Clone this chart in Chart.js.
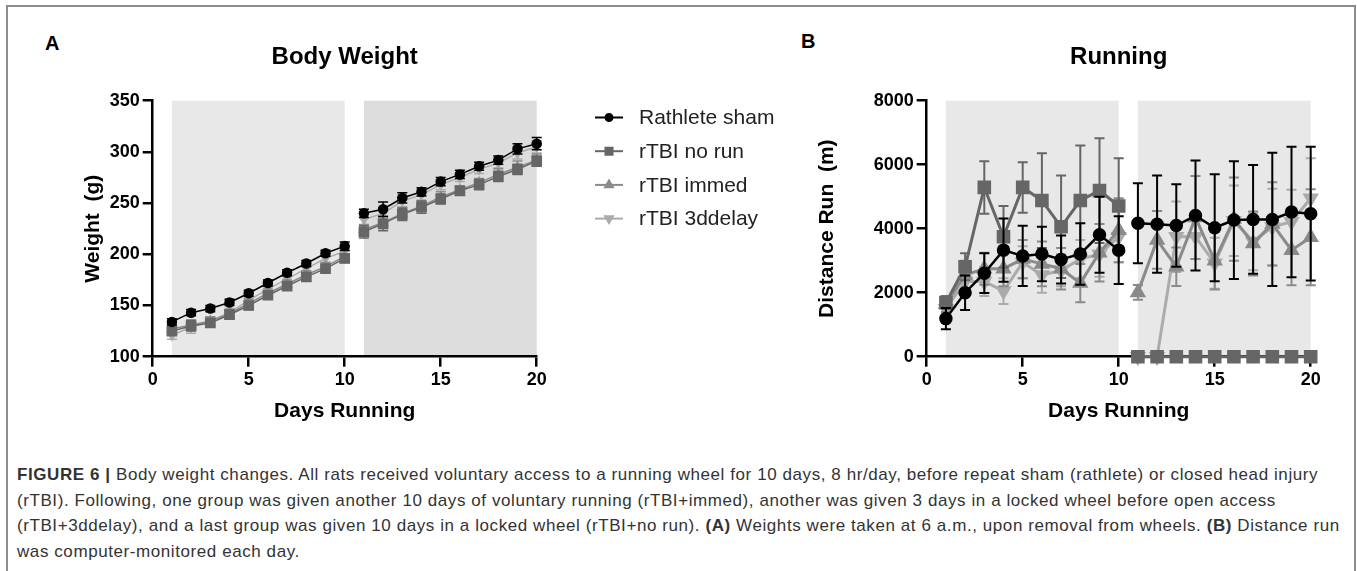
<!DOCTYPE html>
<html lang="en">
<head>
  <meta charset="UTF-8" />
  <title>Body Weight and Running</title>
  <script src="https://cdn.jsdelivr.net/npm/chart.js"></script>
  <style>
    body { margin: 0; background: #fff; width: 1357px; height: 571px; position: relative; overflow: hidden;
           font-family: "Liberation Sans", Arial, sans-serif; }
    .frame { position: absolute; left: 6px; top: 5px; width: 1350px; height: 620px; border: 2px solid #8c8c8c; box-sizing: border-box; }
    .panel { position: absolute; font-weight: bold; font-size: 20px; color: #000; line-height: 1; }
    #weightBox { position: absolute; left: 0; top: 0; width: 800px; height: 430px; }
    #runBox { position: absolute; left: 800px; top: 0; width: 557px; height: 430px; }
    .caption { position: absolute; left: 17px; top: 462px; font-size: 17px; letter-spacing: 0.58px; line-height: 25.5px; color: #333; white-space: nowrap; }
  </style>
</head>
<body>
  <div class="frame"></div>
  <div class="panel" style="left:45px; top:33px;">A</div>
  <div class="panel" style="left:801px; top:31px;">B</div>
  <div id="weightBox"><canvas id="weightChart"></canvas></div>
  <div id="runBox"><canvas id="runChart"></canvas></div>
  <div class="caption">
    <div><b>FIGURE 6 |</b> Body weight changes. All rats received voluntary access to a running wheel for 10 days, 8 hr/day, before repeat sham (rathlete) or closed head injury</div>
    <div>(rTBI). Following, one group was given another 10 days of voluntary running (rTBI+immed), another was given 3 days in a locked wheel before open access</div>
    <div>(rTBI+3ddelay), and a last group was given 10 days in a locked wheel (rTBI+no run). <b>(A)</b> Weights were taken at 6 a.m., upon removal from wheels. <b>(B)</b> Distance run</div>
    <div>was computer-monitored each day.</div>
  </div>

  <script>
    // data
    const days = [1, 2, 3, 4, 5, 6, 7, 8, 9, 10, 11, 12, 13, 14, 15, 16, 17, 18, 19, 20];
    const seriesNames = ['Rathlete sham', 'rTBI no run', 'rTBI immed', 'rTBI 3ddelay'];
    const breakAfterDay = 10;

    const weightSham  = [134, 143, 147, 153, 162, 172, 182, 191, 201, 208, 240, 244, 255, 261, 271, 278, 286, 292, 303, 308];
    const weightNoRun = [125, 130, 133, 141, 150, 160, 169, 178, 186, 196, 222, 230, 239, 246, 254, 262, 268, 276, 283, 291];
    const weightImmed = [127, 131, 135, 142, 152, 162, 171, 180, 188, 198, 224, 231, 240, 247, 256, 263, 270, 278, 285, 292];
    const weightDelay = [121, 129, 135, 143, 155, 166, 176, 186, 196, 203, 234, 240, 252, 258, 268, 275, 283, 289, 299, 305];

    const weightSemSham  = [3, 3, 3, 3, 3, 3, 3, 3, 3, 4, 4, 7, 5, 4, 4, 4, 4, 4, 5, 6];
    const weightSemNoRun = [4, 5, 4, 4, 4, 4, 4, 4, 4, 4, 6, 7, 6, 6, 5, 4, 5, 5, 5, 5];
    const weightSemImmed = [4, 5, 4, 4, 4, 4, 4, 4, 4, 5, 5, 6, 6, 5, 5, 4, 4, 6, 6, 6];
    const weightSemDelay = [4, 6, 4, 4, 4, 4, 4, 4, 4, 4, 6, 7, 6, 5, 5, 4, 4, 6, 6, 6];

    const runSham  = [1190, 2000, 2610, 3330, 3150, 3210, 3040, 3210, 3810, 3330, 4170, 4140, 4100, 4410, 4030, 4270, 4290, 4290, 4520, 4470];
    const runNoRun = [1690, 2810, 5290, 3750, 5290, 4880, 4060, 4880, 5190, 4710, 0, 0, 0, 0, 0, 0, 0, 0, 0, 0];
    const runImmed = [1650, 2550, 2750, 2750, 3050, 2900, 2750, 2300, 3250, 3950, 2010, 3650, 2810, 4350, 3000, 4300, 3540, 4150, 3330, 3730];
    const runDelay = [1500, 2350, 2350, 2050, 2950, 2550, 2700, 3050, 3200, 3750, 0, 0, 3750, 3750, 2920, 4250, 3600, 4050, 4220, 4950];

    const runSemSham  = [330, 540, 620, 990, 940, 850, 750, 960, 1190, 1060, 1250, 1520, 1290, 1720, 1670, 1840, 1700, 2080, 2040, 2090];
    const runSemNoRun = [200, 420, 820, 960, 790, 1480, 1600, 1720, 1640, 1490, 0, 0, 0, 0, 0, 0, 0, 0, 0, 0];
    const runSemImmed = [250, 450, 500, 550, 600, 700, 650, 600, 900, 1000, 230, 900, 600, 1300, 900, 1300, 1000, 1300, 1100, 1500];
    const runSemDelay = [200, 400, 450, 400, 500, 550, 500, 600, 700, 800, 0, 0, 1100, 700, 800, 1100, 900, 1200, 1000, 1250];

    const weightTicks = { min: 100, max: 350, step: 50 };
    const runTicks = { min: 0, max: 8000, step: 2000 };
    const dayTicks = { min: 0, max: 20, step: 5 };

    const FONT = '"Liberation Sans", Arial, sans-serif';
    Chart.defaults.font.family = FONT;
    Chart.defaults.color = '#000';

    const colors = ['#000000', '#666666', '#8a8a8a', '#ababab'];
    const styles = [
      { pointStyle: 'circle', rotation: 0 },
      { pointStyle: 'rect', rotation: 0 },
      { pointStyle: 'triangle', rotation: 0 },
      { pointStyle: 'triangle', rotation: 180 }
    ];

    // grey blocks behind the running periods
    const shadePlugin = {
      id: 'shade',
      beforeDraw(chart, args, opts) {
        const { ctx, scales: { x, y } } = chart;
        ctx.save();
        opts.blocks.forEach(b => {
          const left = x.getPixelForValue(b.from);
          const right = x.getPixelForValue(b.to);
          ctx.fillStyle = b.color;
          ctx.fillRect(left, y.top, right - left, y.bottom - y.top);
        });
        ctx.restore();
      }
    };

    const errorBarPlugin = {
      id: 'errorBars',
      beforeDatasetDraw(chart, args, opts) {
        const ds = chart.data.datasets[args.index];
        if (!ds.errors) return;
        const { ctx } = chart;
        const y = chart.scales.y;
        ctx.save();
        ctx.strokeStyle = ds.borderColor;
        ctx.lineWidth = opts.width;
        args.meta.data.forEach((pt, i) => {
          const e = ds.errors[i];
          if (!e) return;
          const v = ds.data[i].y;
          const top = y.getPixelForValue(v + e);
          const bot = y.getPixelForValue(v - e);
          ctx.beginPath();
          ctx.moveTo(pt.x, top); ctx.lineTo(pt.x, bot);
          ctx.moveTo(pt.x - opts.cap, top); ctx.lineTo(pt.x + opts.cap, top);
          ctx.moveTo(pt.x - opts.cap, bot); ctx.lineTo(pt.x + opts.cap, bot);
          ctx.stroke();
        });
        ctx.restore();
      }
    };

    function drawMarker(ctx, style, radius, x, y) {
      if (Chart.helpers && Chart.helpers.drawPoint) {
        Chart.helpers.drawPoint(ctx, { pointStyle: style.pointStyle, radius: radius, rotation: style.rotation, borderWidth: 1 }, x, y);
      } else {
        ctx.beginPath(); ctx.arc(x, y, radius, 0, Math.PI * 2); ctx.fill();
      }
    }

    // legend drawn between the panels, line through the marker
    const sideLegend = {
      id: 'sideLegend',
      afterDraw(chart, args, opts) {
        if (!opts.show) return;
        const { ctx } = chart;
        ctx.save();
        chart.data.datasets.forEach((ds, i) => {
          const y = opts.top + i * opts.gap;
          ctx.strokeStyle = ds.borderColor;
          ctx.fillStyle = ds.borderColor;
          ctx.lineWidth = 2;
          ctx.beginPath();
          ctx.moveTo(opts.x, y); ctx.lineTo(opts.x + opts.len, y);
          ctx.stroke();
          drawMarker(ctx, styles[i], opts.radius[i], opts.x + opts.len / 2, y);
          ctx.fillStyle = '#222';
          ctx.font = '21px ' + FONT;
          ctx.textBaseline = 'middle';
          ctx.fillText(ds.label, opts.textX, y + 1);
        });
        ctx.restore();
      }
    };

    function makeDatasets(values, errors, radius, lineWidth) {
      return values.map((vals, i) => ({
        label: seriesNames[i],
        data: days.map((d, j) => ({ x: d, y: vals[j] })),
        errors: errors[i],
        borderColor: colors[i],
        backgroundColor: colors[i],
        pointBackgroundColor: colors[i],
        pointBorderColor: colors[i],
        pointStyle: styles[i].pointStyle,
        rotation: styles[i].rotation,
        pointRadius: radius[i],
        borderWidth: lineWidth[i],
        tension: 0,
        clip: false,
        segment: {
          borderColor: c => c.p0.parsed.x === breakAfterDay ? 'rgba(0,0,0,0)' : undefined
        }
      }));
    }

    function makeOptions(cfg) {
      return {
        responsive: true,
        maintainAspectRatio: false,
        animation: false,
        layout: { padding: { left: 0, right: cfg.padRight, top: 0, bottom: 0 } },
        plugins: {
          legend: { display: false },
          tooltip: { enabled: false },
          title: {
            display: true, text: cfg.title, fullSize: false, color: '#000',
            font: { size: 24, weight: 'bold' },
            padding: { top: 42.6, bottom: 29.3 }
          },
          shade: { blocks: cfg.blocks },
          errorBars: cfg.errorBars,
          sideLegend: cfg.legend
        },
        scales: {
          x: {
            type: 'linear', min: dayTicks.min, max: dayTicks.max,
            ticks: { stepSize: dayTicks.step, font: { size: 18, weight: 'bold' }, padding: 3, maxRotation: 0 },
            grid: { drawOnChartArea: false, drawTicks: true, tickLength: 10, color: '#000', lineWidth: 2.5 },
            border: { display: true, color: '#000', width: 2.5 },
            title: { display: true, text: 'Days Running', font: { size: 21, weight: 'bold' }, padding: { top: 0, bottom: 6.4 } },
            afterFit: s => { s.height = 73.3; }
          },
          y: {
            min: cfg.yTicks.min, max: cfg.yTicks.max,
            ticks: { stepSize: cfg.yTicks.step, font: { size: 18, weight: 'bold' }, padding: 3, callback: v => String(v) },
            grid: { drawOnChartArea: false, drawTicks: true, tickLength: 10, color: '#000', lineWidth: 2.5 },
            border: { display: true, color: '#000', width: 2.5 },
            title: { display: true, text: cfg.yTitle, font: { size: 21, weight: 'bold' }, padding: { top: cfg.yTitlePad, bottom: 0 } },
            afterFit: s => { s.width = cfg.yWidth; }
          }
        }
      };
    }

    new Chart(document.getElementById('weightChart'), {
      type: 'line',
      data: {
        datasets: makeDatasets(
          [weightSham, weightNoRun, weightImmed, weightDelay],
          [weightSemSham, weightSemNoRun, weightSemImmed, weightSemDelay],
          [4.5, 6.5, 5, 5], [1.5, 1.5, 1.5, 1.5])
      },
      options: makeOptions({
        title: 'Body Weight', padRight: 263.3, yWidth: 152.7, yTitlePad: 80.4,
        yTitle: 'Weight  (g)', yTicks: weightTicks,
        blocks: [{ from: 1, to: 10, color: '#e8e8e8' }, { from: 11, to: 20, color: '#dddddd' }],
        errorBars: { width: 1.5, cap: 5 },
        legend: { show: true, x: 595, len: 28, textX: 639, top: 117.5, gap: 33.7, radius: [3.5, 5, 4.5, 4.5] }
      }),
      plugins: [shadePlugin, errorBarPlugin, sideLegend]
    });

    new Chart(document.getElementById('runChart'), {
      type: 'line',
      data: {
        datasets: makeDatasets(
          [runSham, runNoRun, runImmed, runDelay],
          [runSemSham, runSemNoRun, runSemImmed, runSemDelay],
          [5.5, 7.5, 6.5, 6.5], [2.5, 3, 3, 3])
      },
      options: makeOptions({
        title: 'Running', padRight: 46.3, yWidth: 126.7, yTitlePad: 14.4,
        yTitle: 'Distance Run  (m)', yTicks: runTicks,
        blocks: [{ from: 1, to: 10, color: '#e8e8e8' }, { from: 11, to: 20, color: '#e8e8e8' }],
        errorBars: { width: 2, cap: 5 },
        legend: { show: false }
      }),
      plugins: [shadePlugin, errorBarPlugin, sideLegend]
    });
  </script>
</body>
</html>
